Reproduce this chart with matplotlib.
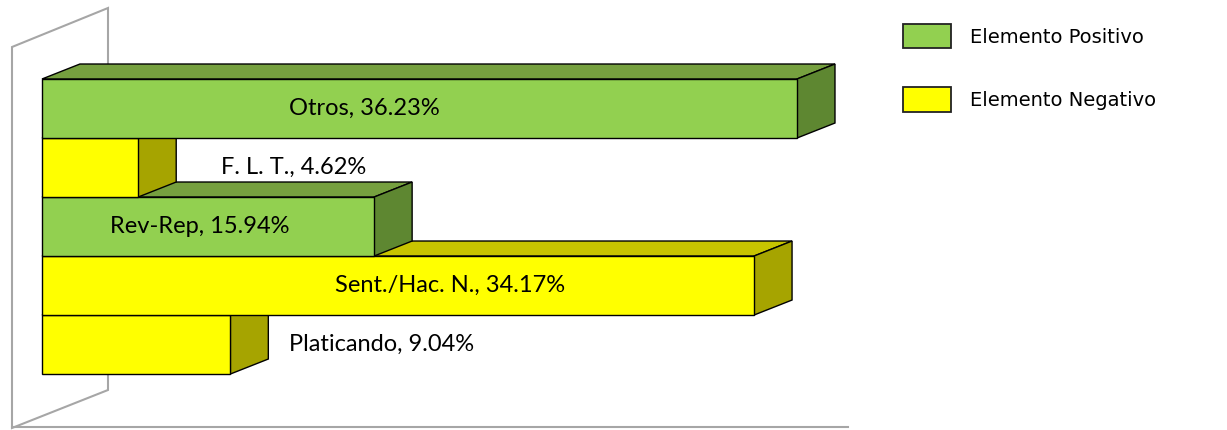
import matplotlib.pyplot as plt
from matplotlib.patches import Polygon, Patch
from matplotlib.lines import Line2D

# data, top bar first
categories = ['Otros', 'F. L. T.', 'Rev-Rep', 'Sent./Hac. N.', 'Platicando']
values = [36.23, 4.62, 15.94, 34.17, 9.04]
kinds = ['pos', 'neg', 'pos', 'neg', 'neg']
legend_labels = {'pos': 'Elemento Positivo', 'neg': 'Elemento Negativo'}

# label centres along x (data units), hand placed like the original
label_x = [15.45, 12.05, 7.55, 19.6, 16.3]

colors = {
    'pos': {'front': '#92D050', 'top': '#76A03F', 'side': '#5E8731'},
    'neg': {'front': '#FFFF00', 'top': '#C8C400', 'side': '#A6A400'},
}

W, H = 1227, 430
fig = plt.figure(figsize=(W / 100, H / 100), dpi=100)
ax = fig.add_axes([0, 0, 1, 1])
ax.set_xlim(-2.015, 56.86)
ax.set_ylim(-1.449, 5.839)
ax.axis('off')

# depth offset of the 3d look
dx, dy = 1.82, 0.254
bh = 1.0

# back wall, drawn in axes fraction (it is a frame, not data)
def px(x, y):
    return (x / W, 1 - y / H)

wall = Polygon([px(12, 47), px(108, 8), px(108, 390), px(12, 428)],
               closed=True, fill=False, edgecolor='#A6A6A6', linewidth=1.5,
               transform=ax.transAxes, zorder=0)
ax.add_patch(wall)
ax.add_line(Line2D([12 / W, 848 / W], [1 - 427 / H, 1 - 427 / H],
                   color='#A6A6A6', linewidth=1.5, transform=ax.transAxes, zorder=0))

n = len(values)
ypos = [n - 1 - i for i in range(n)]

# draw bottom bar first so upper bars cover the top faces below them
for i in range(n - 1, -1, -1):
    v = values[i]
    y0 = ypos[i] - bh / 2
    y1 = ypos[i] + bh / 2
    c = colors[kinds[i]]
    top = Polygon([(0, y1), (dx, y1 + dy), (v + dx, y1 + dy), (v, y1)],
                  closed=True, facecolor=c['top'], edgecolor='black', linewidth=1.0, zorder=2)
    side = Polygon([(v, y0), (v + dx, y0 + dy), (v + dx, y1 + dy), (v, y1)],
                   closed=True, facecolor=c['side'], edgecolor='black', linewidth=1.0, zorder=2)
    front = Polygon([(0, y0), (v, y0), (v, y1), (0, y1)],
                    closed=True, facecolor=c['front'], edgecolor='black', linewidth=1.0, zorder=2)
    ax.add_patch(top)
    ax.add_patch(side)
    ax.add_patch(front)

for i in range(n):
    ax.text(label_x[i], ypos[i], f'{categories[i]}, {values[i]:.2f}%',
            ha='center', va='center', fontsize=17, family='Lato', color='black', zorder=5)

handles = [Patch(facecolor=colors[k]['front'], edgecolor='#222222', linewidth=1.3,
                 label=legend_labels[k]) for k in ['pos', 'neg']]
fig.legend(handles=handles, loc='upper left', bbox_to_anchor=(903 / W, 1 - 24 / H),
           frameon=False, handlelength=2.45, handleheight=1.55,
           handletextpad=1.0, labelspacing=2.0, borderpad=0, borderaxespad=0,
           prop={'family': 'DejaVu Sans', 'size': 14})

fig.savefig('out.png', dpi=100, facecolor='white')
